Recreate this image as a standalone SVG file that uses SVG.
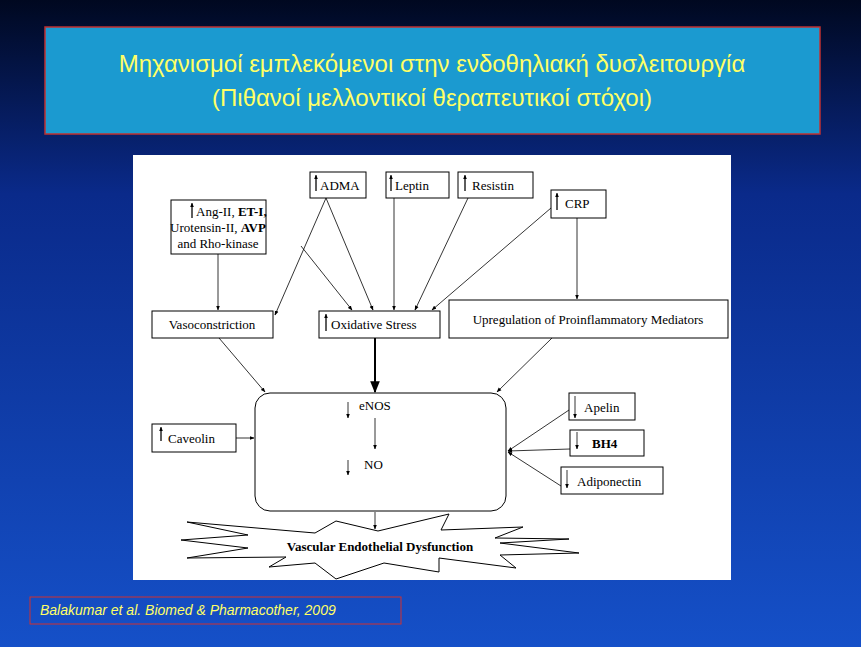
<svg xmlns="http://www.w3.org/2000/svg" width="861" height="647" viewBox="0 0 861 647">
<defs>
<linearGradient id="bg" x1="0" y1="0" x2="0" y2="1"><stop offset="0" stop-color="#000820"/><stop offset="0.3" stop-color="#0a2a8a"/><stop offset="1" stop-color="#1550c8"/></linearGradient>
<marker id="a" viewBox="0 0 10 10" refX="9" refY="5" markerWidth="6" markerHeight="6" orient="auto"><path d="M0,1L10,5L0,9z" fill="#000"/></marker>
<style>
.b{fill:#fff;stroke:#000;stroke-width:1}
.t{font-family:"Liberation Serif",serif;font-size:13px;fill:#000}
.c line{stroke:#000;stroke-width:0.8;marker-end:url(#a)}
.u{stroke:#000;stroke-width:0.8;fill:none}
</style>
</defs>
<rect width="861" height="647" fill="url(#bg)"/>
<g id="title"><rect x="45" y="27" width="775" height="107" fill="#1b9ad0" stroke="#c03030" stroke-width="1.5"/>
<text x="432" y="72" text-anchor="middle" font-family="Liberation Sans,sans-serif" font-size="24" fill="#ffff66">Μηχανισμοί εμπλεκόμενοι στην ενδοθηλιακή δυσλειτουργία</text>
<text x="432" y="106" text-anchor="middle" font-family="Liberation Sans,sans-serif" font-size="24" fill="#ffff66">(Πιθανοί μελλοντικοί θεραπευτικοί στόχοι)</text></g>
<rect x="133" y="155" width="598" height="425" fill="#fff"/>
<g id="admA"><rect class="b" x="310" y="172" width="56" height="26"/><line class="u" x1="316" y1="176" x2="316" y2="191"/><text class="t" x="320" y="190">ADMA</text></g>
<g id="leptin"><rect class="b" x="386" y="172" width="63" height="26"/><line class="u" x1="391" y1="176" x2="391" y2="191"/><text class="t" x="395" y="190">Leptin</text></g>
<g id="resistin"><rect class="b" x="458" y="172" width="75" height="26"/><line class="u" x1="465" y1="176" x2="465" y2="191"/><text class="t" x="472" y="190">Resistin</text></g>
<g id="crp"><rect class="b" x="551" y="190" width="55" height="28"/><line class="u" x1="557" y1="194" x2="557" y2="210"/><text class="t" x="565" y="208">CRP</text></g>
<g id="ang"><rect class="b" x="171" y="200" width="95" height="54"/><line class="u" x1="192" y1="204" x2="192" y2="218"/><text class="t" x="196" y="216">Ang-II, <tspan font-weight="bold">ET-I,</tspan></text><text class="t" x="218" y="232" text-anchor="middle">Urotensin-II, <tspan font-weight="bold">AVP</tspan></text><text class="t" x="218" y="248" text-anchor="middle">and Rho-kinase</text></g>
<g id="vaso"><rect class="b" x="152" y="311" width="121" height="27"/><text class="t" x="212" y="329" text-anchor="middle">Vasoconstriction</text></g>
<g id="ox"><rect class="b" x="319" y="311" width="121" height="27"/><line class="u" x1="326" y1="316" x2="326" y2="331"/><text class="t" x="331" y="329">Oxidative Stress</text></g>
<g id="up"><rect class="b" x="449" y="300" width="279" height="38"/><text class="t" x="588" y="324" text-anchor="middle">Upregulation of Proinflammatory Mediators</text></g>
<g id="center"><rect class="b" x="255" y="393" width="251" height="118" rx="15"/><text class="t" x="359" y="410">eNOS</text><text class="t" x="364" y="469">NO</text></g>
<g id="caveolin"><rect class="b" x="152" y="424" width="84" height="28"/><line class="u" x1="161" y1="428" x2="161" y2="441"/><text class="t" x="168" y="443">Caveolin</text></g>
<g id="apelin"><rect class="b" x="569" y="393" width="66" height="27"/><text class="t" x="584" y="412">Apelin</text></g>
<g id="bh4"><rect class="b" x="570" y="430" width="74" height="26"/><text class="t" x="592" y="448" font-family="Liberation Sans,sans-serif" font-size="12" font-weight="bold">BH4</text></g>
<g id="adipo"><rect class="b" x="561" y="467" width="102" height="27"/><text class="t" x="577" y="486">Adiponectin</text></g>
<g id="star"><polygon class="b" points="187,522 315,533 336,521 378,531 449,514 441,530 523,527 495,538 569,539 500,543 579,553 500,555 516,568 439,558 439,572 384,563 336,579 315,563 269,567 286,557 187,558 248,548 181,540 248,535"/><text class="t" x="380" y="551" text-anchor="middle" font-weight="bold" font-size="12">Vascular Endothelial Dysfunction</text></g>
<g class="c" id="connectors">
<line x1="316" y1="191" x2="316" y2="175"/><line x1="391" y1="191" x2="391" y2="175"/><line x1="465" y1="191" x2="465" y2="175"/><line x1="557" y1="210" x2="557" y2="193"/><line x1="192" y1="218" x2="192" y2="203"/><line x1="326" y1="331" x2="326" y2="314"/><line x1="161" y1="441" x2="161" y2="427"/>
<line x1="348" y1="402" x2="348" y2="418"/><line x1="348" y1="460" x2="348" y2="475"/>
<line x1="575" y1="396" x2="575" y2="418"/><line x1="577" y1="432" x2="577" y2="449"/><line x1="567" y1="470" x2="567" y2="488"/>
<line x1="218" y1="254" x2="218" y2="310"/>
<line x1="326" y1="198" x2="275" y2="315"/>
<line x1="326" y1="198" x2="373" y2="310"/>
<line x1="301" y1="246" x2="352" y2="310"/>
<line x1="394" y1="198" x2="394" y2="310"/>
<line x1="468" y1="198" x2="415" y2="310"/>
<line x1="551" y1="208" x2="432" y2="310"/>
<line x1="577" y1="218" x2="577" y2="299"/>
<line x1="219" y1="338" x2="265" y2="392"/>
<line x1="375" y1="338" x2="375" y2="392" style="stroke-width:2"/>
<line x1="552" y1="338" x2="497" y2="392"/>
<line x1="375" y1="418" x2="375" y2="449"/>
<line x1="236" y1="438" x2="254" y2="438"/>
<line x1="569" y1="410" x2="508" y2="451"/>
<line x1="570" y1="449" x2="508" y2="451"/>
<line x1="561" y1="486" x2="508" y2="452"/>
<line x1="375" y1="512" x2="375" y2="529"/>
</g>
<g id="cite"><rect x="30" y="597" width="371" height="27" fill="none" stroke="#d03030" stroke-width="1"/><text x="40" y="615" font-family="Liberation Sans,sans-serif" font-size="14" font-style="italic" fill="#ffff66">Balakumar et al. Biomed &amp; Pharmacother, 2009</text></g>
</svg>
